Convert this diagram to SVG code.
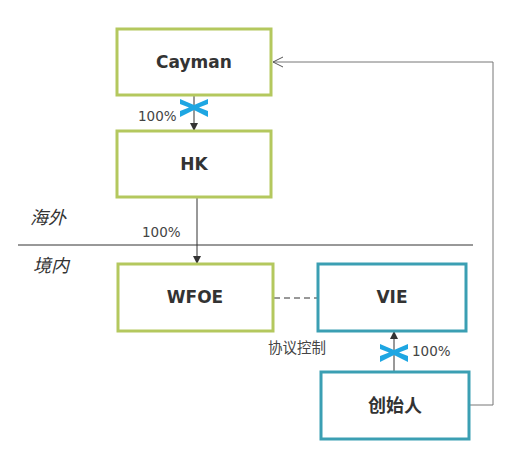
<svg xmlns="http://www.w3.org/2000/svg" width="511" height="458" viewBox="0 0 511 458">
<defs>
<style>
.g{fill:#fff;stroke:#b4c85e;stroke-width:3}
.t{fill:#fff;stroke:#3b9fb3;stroke-width:3}
.lb{font-family:"DejaVu Sans",sans-serif;font-weight:bold;font-size:17px;fill:#333;text-anchor:middle}
.cn{font-family:"DejaVu Sans","Noto Sans CJK SC",sans-serif;font-weight:bold;font-size:18px;fill:#333;text-anchor:middle}
.sm{font-family:"DejaVu Sans",sans-serif;font-size:13.5px;fill:#444}
.sc{font-family:"Noto Sans CJK SC",sans-serif;font-size:14.5px;fill:#444}
.it{font-family:"Noto Sans CJK SC",sans-serif;font-size:18px;fill:#333;font-style:italic}
.ln{stroke:#333;stroke-width:1;fill:none}
.x{fill:#1ea6e2}
</style>
<marker id="ah" markerWidth="8" markerHeight="8" refX="7" refY="4" orient="auto" markerUnits="userSpaceOnUse">
<path d="M0,0 L8,4 L0,8 Z" fill="#333"/>
</marker>
<marker id="oa" markerWidth="12" markerHeight="12" refX="11" refY="6" orient="auto" markerUnits="userSpaceOnUse">
<path d="M1,1 L11,6 L1,11" fill="none" stroke="#555" stroke-width="1"/>
</marker>
</defs>
<g id="connectors">
<line class="ln" x1="194" y1="96" x2="194" y2="130" marker-end="url(#ah)"/>
<line class="ln" x1="197" y1="198" x2="197" y2="263" marker-end="url(#ah)"/>
<line class="ln" x1="274" y1="298" x2="317" y2="298" stroke-dasharray="6,4"/>
<line class="ln" x1="394" y1="371" x2="394" y2="332" marker-end="url(#ah)"/>
<path d="M470,405 H493 V62 H273" fill="none" stroke="#777" stroke-width="1" marker-end="url(#oa)"/>
<line x1="18" y1="245" x2="473" y2="245" stroke="#333" stroke-width="1"/>
</g>
<g id="x1">
<path class="x" d="M180,99 L194,105 L208,99 L208,104 L199,107.5 L208,111 L208,117 L194,110 L180,117 L180,111 L189,107.5 L180,104 Z"/>
</g>
<g id="x2">
<path class="x" d="M380,344 L394,350 L408,344 L408,349 L399,352.5 L408,356 L408,362 L394,355 L380,362 L380,356 L389,352.5 L380,349 Z"/>
</g>
<g id="cayman">
<rect class="g" x="117" y="29" width="154" height="66"/>
<text class="lb" x="194" y="68">Cayman</text>
</g>
<g id="hk">
<rect class="g" x="117" y="131" width="154" height="66"/>
<text class="lb" x="194" y="170">HK</text>
</g>
<g id="wfoe">
<rect class="g" x="118" y="264" width="155" height="67"/>
<text class="lb" x="195" y="303">WFOE</text>
</g>
<g id="vie">
<rect class="t" x="318" y="264" width="148" height="67"/>
<text class="lb" x="392" y="303">VIE</text>
</g>
<g id="founder">
<rect class="t" x="321" y="372" width="148" height="67"/>
<text class="cn" x="395" y="412">创始人</text>
</g>
<g id="labels">
<text class="sm" x="138" y="121">100%</text>
<text class="sm" x="142" y="237">100%</text>
<text class="sm" x="412" y="356">100%</text>
<text class="sc" x="268" y="353">协议控制</text>
<text class="it" x="30" y="224">海外</text>
<text class="it" x="33" y="272">境内</text>
</g>
</svg>
